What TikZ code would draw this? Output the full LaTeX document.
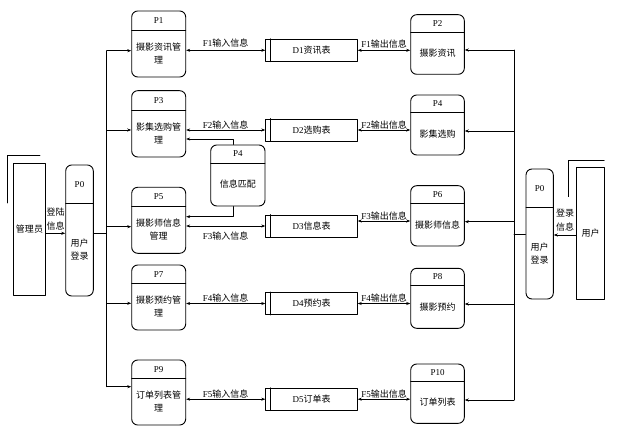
\documentclass[tikz,border=0pt]{standalone}
\usepackage{fontspec}
\setmainfont{Liberation Serif}
\newfontfamily\cjk{Noto Sans CJK SC}
\usetikzlibrary{arrows.meta,calc,fit}

\tikzset{
  proc/.style={draw,line width=0.9pt,rounded corners=6pt,inner sep=0pt},
  divline/.style={line width=0.9pt},
  ptitle/.style={font=\fontsize{9}{11}\selectfont,inner sep=0pt},
  pbody/.style={font=\cjk\fontsize{9}{13}\selectfont,align=center,inner sep=0pt},
  store/.style={draw,line width=0.8pt,minimum width=91.6pt,minimum height=22pt,inner sep=0pt,font=\fontsize{9}{11}\selectfont},
  entity/.style={draw,line width=0.8pt,inner sep=0pt,font=\cjk\fontsize{9}{11}\selectfont},
  link/.style={line width=0.6pt},
  flow/.style={link,-{Stealth[length=4pt,width=3pt]}},
  dflow/.style={link,{Stealth[length=4pt,width=3pt]}-{Stealth[length=4pt,width=3pt]}},
  lbl/.style={font=\fontsize{9}{14}\selectfont,align=center,inner sep=0pt}
}

% name, left, right, top, divider, bottom, title, body
\newcommand{\procbox}[8]{%
  \node[proc,fit={(#2,#4) (#3,#6)}] (#1) {};
  \draw[divline] (#2,#5) -- (#3,#5);
  \node[ptitle] (#1-t) at ({(#2+#3)/2},{(#4+#5)/2}) {#7};
  \node[pbody] (#1-b) at ({(#2+#3)/2},{(#5+#6)/2}) {#8};
}

\begin{document}
\begin{tikzpicture}[x=1pt,y=-1pt,line cap=round,line join=round]
  \useasboundingbox (0,0) rectangle (617,427);

  % external entities
  \node[entity,minimum width=32.4pt,minimum height=132pt] (adm) at (29.5,229.3) {管理员};
  \draw[link] (7.3,203) -- (7.3,155) -- (40,155);
  \node[entity,minimum width=27.6pt,minimum height=131.3pt] (usr) at (590.5,233.4) {用户};
  \draw[link] (568.3,196.7) -- (568.3,160) -- (604.3,160);

  % login processes
  \procbox{lp0}{65.7}{93.3}{165}{203.3}{296}{P0}{用户\\登录}
  \procbox{rp0}{526}{553.3}{169}{207.3}{299}{P0}{用户\\登录}

  % left processes
  \procbox{p1}{131.7}{185.7}{11}{30.7}{77}{P1}{摄影资讯管\\理}
  \procbox{p3}{131.7}{185.7}{90.7}{110}{157}{P3}{影集选购管\\理}
  \procbox{p5}{131.7}{185.7}{187.3}{206.7}{253.3}{P5}{摄影师信息\\管理}
  \procbox{p7}{131.7}{185.7}{265}{283.3}{330}{P7}{摄影预约管\\理}
  \procbox{p9}{131.7}{185.7}{360}{378.3}{425}{P9}{订单列表管\\理}

  % right processes
  \procbox{p2}{410.7}{464.3}{14.7}{32.3}{74.3}{P2}{摄影资讯}
  \procbox{p4}{410.7}{464.3}{95}{112.7}{155}{P4}{影集选购}
  \procbox{p6}{410.7}{464.3}{185.7}{203.3}{246}{P6}{摄影师信息}
  \procbox{p8}{410.7}{464.3}{268.3}{285.7}{328.3}{P8}{摄影预约}
  \procbox{p10}{410.7}{464.3}{364}{381.7}{423.3}{P10}{订单列表}

  % matching process
  \procbox{pm}{210.7}{265}{145}{163}{206}{P4}{信息匹配}

  % data stores
  \node[store] (d1) at (311.5,50.3) {D1{\cjk 资讯表}};
  \node[store] (d2) at (311.5,130) {D2{\cjk 选购表}};
  \node[store] (d3) at (311.5,226) {D3{\cjk 信息表}};
  \node[store] (d4) at (311.5,303.5) {D4{\cjk 预约表}};
  \node[store] (d5) at (311.5,399.2) {D5{\cjk 订单表}};
  \foreach \d in {d1,d2,d3,d4,d5}
    \draw[line width=0.8pt] ([xshift=5pt]\d.north west) -- ([xshift=5pt]\d.south west);

  % login flows
  \draw[flow] (adm.east |- 0,233.3) -- (lp0.west |- 0,233.3);
  \node[lbl] (admlbl) at (55.5,219) {\cjk 登陆\\\cjk 信息};
  \draw[flow] (usr.west |- 0,235) -- (rp0.east |- 0,235);
  \node[lbl] (usrlbl) at (565,220) {\cjk 登录\\\cjk 信息};

  % buses
  \draw[link] (lp0.east |- 0,233.3) -- (106.7,233.3);
  \draw[link] (106.7,50.7) -- (106.7,386.7);
  \foreach \n/\y in {p1/50.7,p3/130,p5/226.7,p7/303.3,p9/386.7}
    \draw[flow] (106.7,\y) -- (\n.west |- 0,\y);
  \draw[link] (rp0.west |- 0,234.3) -- (514,234.3);
  \draw[link] (514,50) -- (514,400);
  \foreach \n/\y in {p2/50,p4/131,p6/221.7,p8/304,p10/400}
    \draw[flow] (514,\y) -- (\n.east |- 0,\y);

  % store flows
  \draw[dflow] (p1.east |- d1.west) -- (d1.west);
  \draw[dflow] (d1.east) -- (p2.west |- d1.east);
  \node[lbl] (f1in) at (225.7,43.5) {F1{\cjk 输入信息}};
  \node[lbl] (f1out) at (384,44.5) {F1{\cjk 输出信息}};

  \draw[dflow] (p3.east |- d2.west) -- (d2.west);
  \draw[dflow] (d2.east) -- (p4.west |- d2.east);
  \node[lbl] (f2in) at (225.7,125) {F2{\cjk 输入信息}};
  \node[lbl] (f2out) at (384,125.5) {F2{\cjk 输出信息}};

  \draw[dflow] (p5.east |- d3.west) -- (d3.west);
  \draw[dflow] (d3.east |- 0,221) -- (p6.west |- 0,221);
  \node[lbl] (f3in) at (225.7,236) {F3{\cjk 输入信息}};
  \node[lbl] (f3out) at (384,216) {F3{\cjk 输出信息}};

  \draw[dflow] (p7.east |- d4.west) -- (d4.west);
  \draw[dflow] (d4.east) -- (p8.west |- d4.east);
  \node[lbl] (f4in) at (225.7,298) {F4{\cjk 输入信息}};
  \node[lbl] (f4out) at (384,298.5) {F4{\cjk 输出信息}};

  \draw[dflow] (p9.east |- d5.west) -- (d5.west);
  \draw[dflow] (d5.east) -- (p10.west |- d5.east);
  \node[lbl] (f5in) at (225.7,394) {F5{\cjk 输入信息}};
  \node[lbl] (f5out) at (384,394.5) {F5{\cjk 输出信息}};

  % matching links
  \draw[flow] ([xshift=-5pt]pm.north) |- (p3.east |- 0,139);
  \draw[flow] ([xshift=-5pt]pm.south) |- (p5.east |- 0,216.7);
\end{tikzpicture}
\end{document}
